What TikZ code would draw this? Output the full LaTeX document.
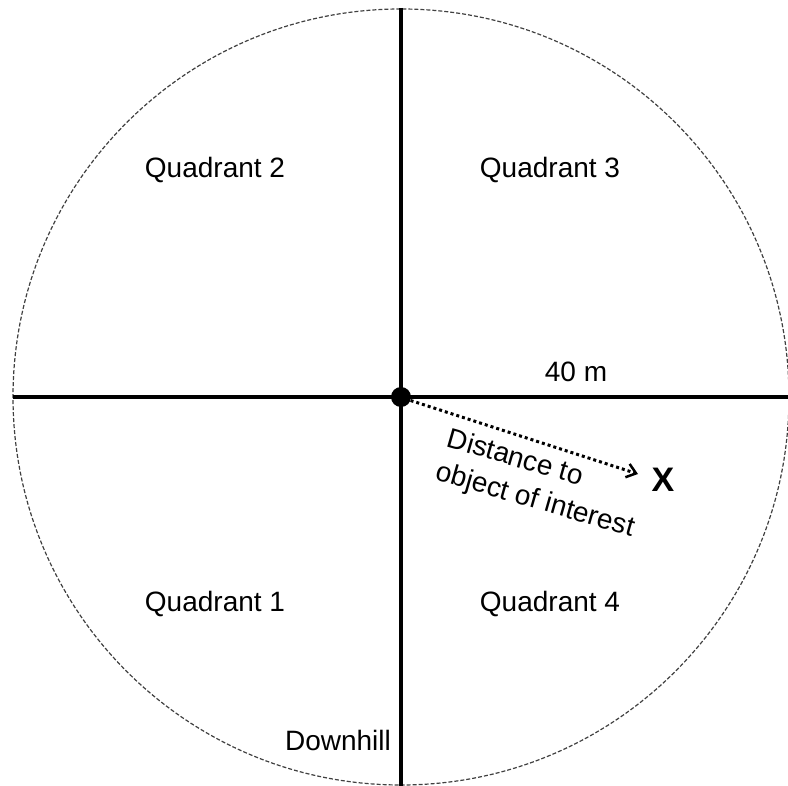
\documentclass[tikz,border=0pt]{standalone}
\usepackage{fontspec}
\setmainfont{Liberation Sans}
\usetikzlibrary{arrows.meta}
\begin{document}
\begin{tikzpicture}[x=1pt,y=-1pt,
  lbl/.style={font=\fontsize{28}{33}\selectfont, inner sep=0pt},
  axis/.style={line width=4pt},
  ring/.style={draw=black!75, line width=1.2pt, dash pattern=on 4pt off 2pt}]
\useasboundingbox (0,0) rectangle (788,786);
\coordinate (c) at (401,397);
\draw[ring] (c) circle[radius=388];
\coordinate (w) at (13,397);
\coordinate (e) at (788,397);
\coordinate (n) at (401,8);
\coordinate (s) at (401,786);
\draw[axis] (w) -- (e);
\draw[axis] (n) -- (s);
\node[circle, fill=black, minimum size=20pt, inner sep=0pt] (dot) at (c) {};
\node[lbl] (q2) at (215,170) {Quadrant 2};
\node[lbl] (q3) at (550,170) {Quadrant 3};
\node[lbl] (q1) at (215,604) {Quadrant 1};
\node[lbl] (q4) at (550,604) {Quadrant 4};
\node[lbl] (r) at (576,372) {40 m};
\node[lbl] (dh) at (338,740) {Downhill};
\node[font=\fontsize{34}{40}\selectfont\bfseries, inner sep=0pt] (x) at (663,480) {X};
\coordinate (tip) at (638,474);
\draw[line width=3pt, dash pattern=on 3pt off 3pt, -{Straight Barb[length=9pt,width=14pt,line width=2.5pt]}] (dot.-20) -- (tip);
\node[lbl, anchor=base, rotate=-16] (dist1) at (513,466) {Distance to};
\node[lbl, anchor=base, rotate=-16] (dist2) at (533,508) {object of interest};
\end{tikzpicture}
\end{document}
